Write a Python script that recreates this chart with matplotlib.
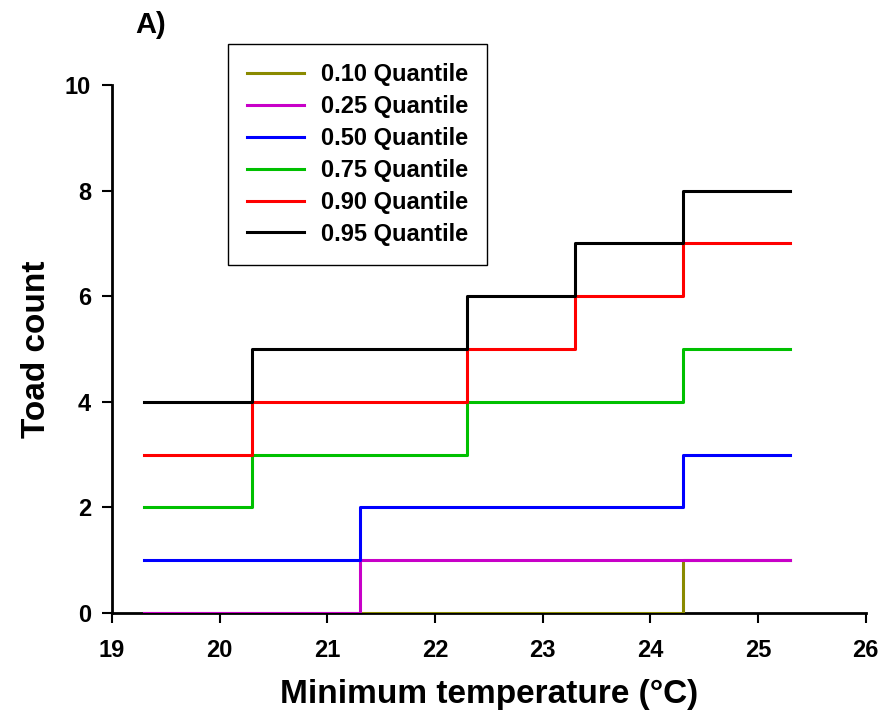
import matplotlib.pyplot as plt

# Minimum temperature breakpoints (step starts) and toad count per quantile
temps = [19.3, 20.3, 21.3, 22.3, 23.3, 24.3, 25.3]
q10 = [0, 0, 0, 0, 0, 1, 1]
q25 = [0, 0, 1, 1, 1, 1, 1]
q50 = [1, 1, 2, 2, 2, 3, 3]
q75 = [2, 3, 3, 4, 4, 5, 5]
q90 = [3, 4, 4, 5, 6, 7, 7]
q95 = [4, 5, 5, 6, 7, 8, 8]

labels = ['0.10 Quantile', '0.25 Quantile', '0.50 Quantile',
          '0.75 Quantile', '0.90 Quantile', '0.95 Quantile']
colors = ['#8a8a00', '#c800c8', '#0000ff', '#00c000', '#ff0000', '#000000']
series = [q10, q25, q50, q75, q90, q95]

plt.rcParams['font.family'] = ['Liberation Sans', 'DejaVu Sans']

fig = plt.figure(figsize=(8.88, 7.25), dpi=100)
ax = fig.add_axes([0.126, 0.1545, 0.849, 0.7283])

for vals, col, lab in zip(series, colors, labels):
    ax.step(temps, vals, where='post', color=col, linewidth=2.2, label=lab)

ax.set_xlim(19, 26)
ax.set_ylim(0, 10)
ax.set_xticks(range(19, 27))
ax.set_yticks(range(0, 11, 2))

for s in ['top', 'right']:
    ax.spines[s].set_visible(False)
for s in ['left', 'bottom']:
    ax.spines[s].set_linewidth(2)
    ax.spines[s].set_zorder(1)

ax.tick_params(direction='out', length=7, width=1.5, labelsize=17)
ax.tick_params(axis='y', pad=8)
ax.tick_params(axis='x', pad=12)
for t in ax.get_xticklabels() + ax.get_yticklabels():
    t.set_fontweight('bold')

ax.set_xlabel('Minimum temperature (°C)', fontsize=24, fontweight='bold', labelpad=12)
ax.set_ylabel('Toad count', fontsize=24, fontweight='bold', labelpad=9)

fig.text(0.152, 0.966, 'A)', fontsize=21, fontweight='bold', ha='left', va='center')

leg = ax.legend(loc='upper left', bbox_to_anchor=(228 / 888, 1 - 44 / 725),
                bbox_transform=fig.transFigure, fancybox=False, framealpha=1,
                edgecolor='black', prop={'weight': 'bold', 'size': 17},
                handlelength=2.4, labelspacing=0.38, borderpad=0.8,
                handletextpad=0.75, borderaxespad=0)
leg.get_frame().set_linewidth(1)

fig.savefig('out.png', dpi=100)
